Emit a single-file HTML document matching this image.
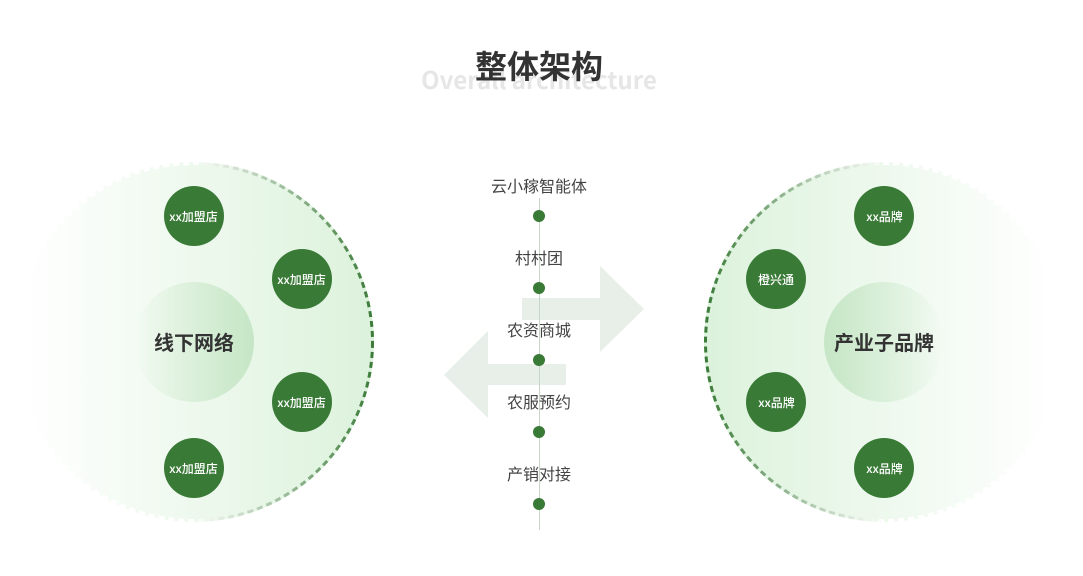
<!DOCTYPE html>
<html lang="zh">
<head>
<meta charset="utf-8">
<style>
html,body{margin:0;padding:0;background:#fff;width:1083px;height:576px;overflow:hidden}
svg{display:block}
text{font-family:"Noto Sans CJK SC","Liberation Sans",sans-serif;text-anchor:middle}
.s{font-size:12px;fill:#fff;font-weight:500}
.m{font-size:16px;fill:#444}
.b{font-size:20px;font-weight:700;fill:#333}
</style>
</head>
<body>
<svg width="1083" height="576" viewBox="0 0 1083 576" xmlns="http://www.w3.org/2000/svg">
<defs>
<linearGradient id="lf" gradientUnits="userSpaceOnUse" x1="24" y1="0" x2="374" y2="0">
<stop offset="0" stop-color="#ffffff"/><stop offset="1" stop-color="#dcf2dc"/>
</linearGradient>
<linearGradient id="rf" gradientUnits="userSpaceOnUse" x1="1054" y1="0" x2="704" y2="0">
<stop offset="0" stop-color="#ffffff"/><stop offset="1" stop-color="#dcf2dc"/>
</linearGradient>
<linearGradient id="ls" gradientUnits="userSpaceOnUse" x1="194" y1="0" x2="374" y2="0">
<stop offset="0" stop-color="#ffffff"/><stop offset="1" stop-color="#3a7a37"/>
</linearGradient>
<linearGradient id="rs" gradientUnits="userSpaceOnUse" x1="884" y1="0" x2="704" y2="0">
<stop offset="0" stop-color="#ffffff"/><stop offset="1" stop-color="#3a7a37"/>
</linearGradient>
<linearGradient id="lc" gradientUnits="userSpaceOnUse" x1="134" y1="0" x2="254" y2="0">
<stop offset="0" stop-color="#c6e6c6" stop-opacity="0"/><stop offset="1" stop-color="#c6e6c6"/>
</linearGradient>
<linearGradient id="rc" gradientUnits="userSpaceOnUse" x1="944" y1="0" x2="824" y2="0">
<stop offset="0" stop-color="#c6e6c6" stop-opacity="0"/><stop offset="1" stop-color="#c6e6c6"/>
</linearGradient>
</defs>

<text x="539" y="89" font-size="24" font-weight="700" fill="#e6e6e6">Overall architecture</text>
<text x="539" y="78" font-size="32" font-weight="700" fill="#333">整体架构</text>

<circle cx="194" cy="342" r="180" fill="url(#lf)"/>
<circle cx="194" cy="342" r="178.5" fill="none" stroke="url(#ls)" stroke-width="3" stroke-dasharray="6 4"/>
<circle cx="194" cy="342" r="60" fill="url(#lc)"/>
<text class="b" x="194" y="350">线下网络</text>

<circle cx="194" cy="216" r="30" fill="#3a7a37"/>
<circle cx="302" cy="279" r="30" fill="#3a7a37"/>
<circle cx="302" cy="402" r="30" fill="#3a7a37"/>
<circle cx="194" cy="468" r="30" fill="#3a7a37"/>
<text class="s" x="193.5" y="221">xx加盟店</text>
<text class="s" x="301.5" y="284">xx加盟店</text>
<text class="s" x="301.5" y="407">xx加盟店</text>
<text class="s" x="193.5" y="473">xx加盟店</text>

<circle cx="884" cy="342" r="180" fill="url(#rf)"/>
<circle cx="884" cy="342" r="178.5" fill="none" stroke="url(#rs)" stroke-width="3" stroke-dasharray="6 4"/>
<circle cx="884" cy="342" r="60" fill="url(#rc)"/>
<text class="b" x="884" y="350">产业子品牌</text>

<circle cx="884" cy="216" r="30" fill="#3a7a37"/>
<circle cx="776" cy="279" r="30" fill="#3a7a37"/>
<circle cx="776" cy="402" r="30" fill="#3a7a37"/>
<circle cx="884" cy="468" r="30" fill="#3a7a37"/>
<text class="s" x="884.5" y="221">xx品牌</text>
<text class="s" x="776" y="284">橙兴通</text>
<text class="s" x="776.5" y="407">xx品牌</text>
<text class="s" x="884.5" y="473">xx品牌</text>

<polygon points="522,298 600,298 600,266 644,309 600,352 600,320 522,320" fill="#e7efe8"/>
<polygon points="566,364 488,364 488,331 444,375 488,418 488,385 566,385" fill="#e7efe8"/>

<line x1="539.5" y1="198" x2="539.5" y2="530" stroke="#c8d6c9" stroke-width="1"/>
<circle cx="539" cy="216" r="6" fill="#3a7a37"/>
<circle cx="539" cy="288" r="6" fill="#3a7a37"/>
<circle cx="539" cy="360" r="6" fill="#3a7a37"/>
<circle cx="539" cy="432" r="6" fill="#3a7a37"/>
<circle cx="539" cy="504" r="6" fill="#3a7a37"/>

<text class="m" x="539" y="192">云小稼智能体</text>
<text class="m" x="539" y="264">村村团</text>
<text class="m" x="539" y="336">农资商城</text>
<text class="m" x="539" y="408">农服预约</text>
<text class="m" x="539" y="480">产销对接</text>
</svg>
</body>
</html>
